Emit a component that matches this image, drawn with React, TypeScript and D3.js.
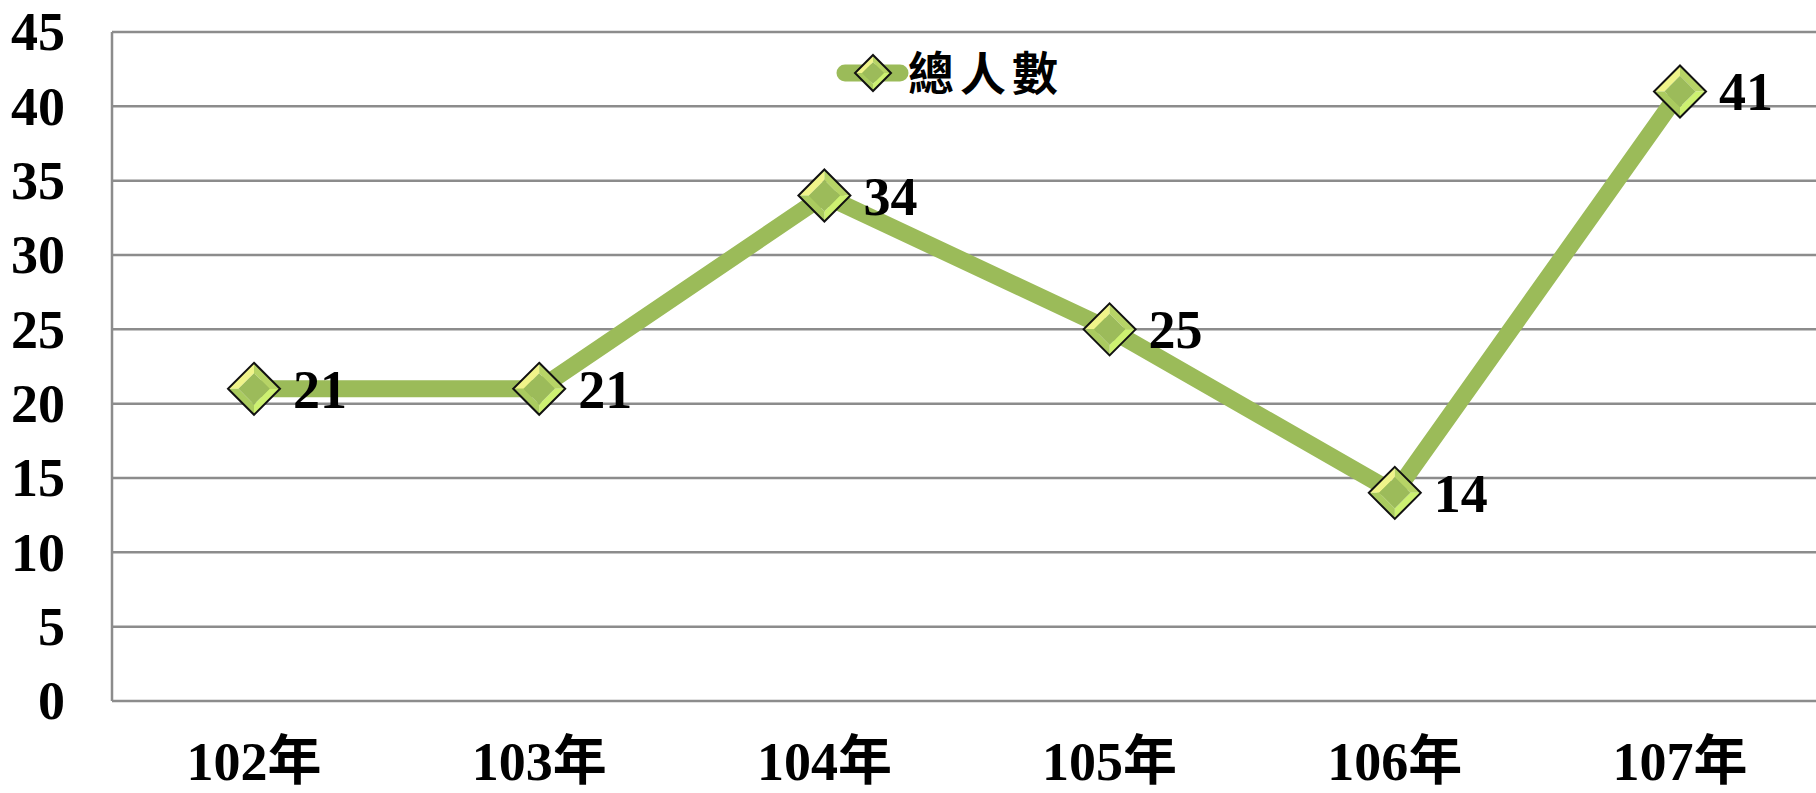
import React from "react";
import * as d3 from "d3";

const categories = ["102年", "103年", "104年", "105年", "106年", "107年"];
const values = [21, 21, 34, 25, 14, 41];
const yTicks = [0, 5, 10, 15, 20, 25, 30, 35, 40, 45];
const seriesName = "總人數";

const W = 1816;
const H = 793;
const plotLeft = 112;
const plotRight = 1816;
const yTop = 32;
const yBottom = 701;

const FONT = "'Liberation Serif', 'Times New Roman', 'Noto Sans CJK TC', serif";
const LINE = "#9BBB59";
const GRID = "#8c8c8c";

function Marker({ cx, cy, r }: { cx: number; cy: number; r: number }) {
  const ri = r * 0.6;
  const T = [cx, cy - r], R = [cx + r, cy], B = [cx, cy + r], L = [cx - r, cy];
  const t = [cx, cy - ri], rr = [cx + ri, cy], b = [cx, cy + ri], l = [cx - ri, cy];
  const p = (pts: number[][]) => pts.map((q) => q.join(",")).join(" ");
  return (
    <g>
      <polygon points={p([L, T, t, l])} fill="#F0F48A" />
      <polygon points={p([T, R, rr, t])} fill="#B7D466" />
      <polygon points={p([R, B, b, rr])} fill="#CDF171" />
      <polygon points={p([B, L, l, b])} fill="#AACB5F" />
      <polygon points={p([t, rr, b, l])} fill="#9CBB5A" />
      <polygon points={p([T, R, B, L])} fill="none" stroke="#111" strokeWidth={2} strokeLinejoin="miter" />
    </g>
  );
}

export default function App() {
  const x = d3.scalePoint<string>().domain(categories).range([254, 1680]).padding(0);
  const y = d3.scaleLinear().domain([0, 45]).range([yBottom, yTop]);
  const line = d3
    .line<number>()
    .x((_, i) => x(categories[i]) as number)
    .y((d) => y(d));

  return (
    <svg
      width={W}
      height={H}
      style={{ position: "absolute", left: 0, top: 0, background: "#fff" }}
      fontFamily={FONT}
    >
      {yTicks.map((t) => (
        <line key={"g" + t} x1={plotLeft} x2={plotRight} y1={y(t)} y2={y(t)} stroke={GRID} strokeWidth={2.5} />
      ))}
      <line x1={plotLeft} x2={plotLeft} y1={yTop} y2={yBottom} stroke={GRID} strokeWidth={2.5} />
      {yTicks.map((t) => (
        <text key={"y" + t} x={65} y={y(t)} dy="0.34em" textAnchor="end" fontSize={54} fontWeight="bold" fill="#000">
          {t}
        </text>
      ))}
      {categories.map((c) => (
        <text key={c} x={x(c)} y={780} textAnchor="middle" fontSize={54} fontWeight="bold" fill="#000">
          {c}
        </text>
      ))}
      <path d={line(values) || ""} fill="none" stroke={LINE} strokeWidth={17} strokeLinejoin="miter" />
      {values.map((v, i) => (
        <Marker key={"m" + i} cx={x(categories[i]) as number} cy={y(v)} r={26} />
      ))}
      {values.map((v, i) => (
        <text key={"l" + i} x={(x(categories[i]) as number) + 39} y={y(v) + 19} fontSize={54} fontWeight="bold" fill="#000">
          {v}
        </text>
      ))}
      <g>
        <line x1={845} x2={900} y1={73} y2={73} stroke={LINE} strokeWidth={17} strokeLinecap="round" />
        <Marker cx={873} cy={73} r={18} />
        <text x={908} y={90} fontSize={46} fontWeight="bold" letterSpacing={6} fill="#000">
          {seriesName}
        </text>
      </g>
    </svg>
  );
}
